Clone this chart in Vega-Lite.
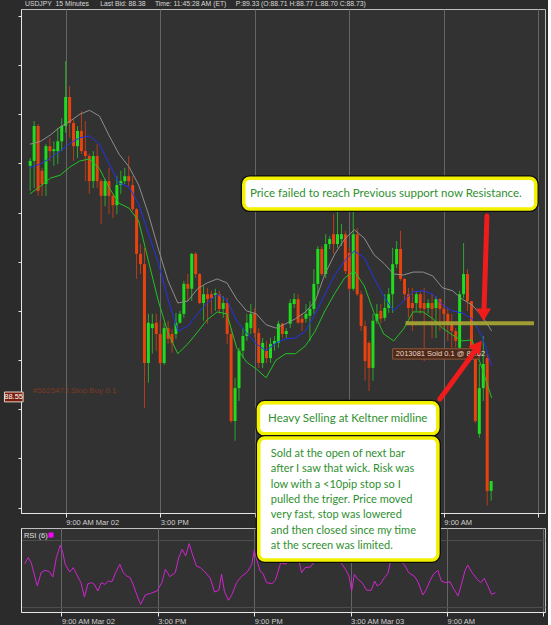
{
"$schema":"https://vega.github.io/schema/vega-lite/v6.json",
"background":"#2b2b2b",
"padding":{"left":3,"top":0,"right":2,"bottom":1},
"bounds":"flush",
"spacing":15,
"title":{"text":"USDJPY\u00a0\u00a015 Minutes\u00a0\u00a0\u00a0\u00a0\u00a0\u00a0Last Bid: 88.38\u00a0\u00a0\u00a0\u00a0\u00a0Time: 11:45:28 AM (ET)\u00a0\u00a0\u00a0\u00a0\u00a0P:89.33 (O:88.71 H:88.77 L:88.70 C:88.73)","anchor":"start","frame":"group","font":"Liberation Sans","fontSize":6.8,"fontWeight":"normal","color":"#d8d8d8","offset":1,"dx":4},
"config":{"view":{"fill":"#323232","stroke":"#bfbfbf","strokeWidth":1},"axis":{"labelFont":"Liberation Sans","labelFontSize":7.5,"labelColor":"#d0d0d0","domainColor":"#e6e6e6","tickColor":"#e6e6e6","title":null}},
"datasets":{
"c":[
{"t":"2013-03-02T06:45:00Z","o":89.020,"h":89.036,"l":88.969,"c":89.030},
{"t":"2013-03-02T07:00:00Z","o":89.030,"h":89.111,"l":88.975,"c":89.101},
{"t":"2013-03-02T07:15:00Z","o":89.101,"h":89.105,"l":88.959,"c":88.969},
{"t":"2013-03-02T07:30:00Z","o":89.010,"h":89.016,"l":88.959,"c":88.983},
{"t":"2013-03-02T07:45:00Z","o":88.983,"h":89.064,"l":88.959,"c":89.060},
{"t":"2013-03-02T08:00:00Z","o":89.060,"h":89.077,"l":89.030,"c":89.050},
{"t":"2013-03-02T08:15:00Z","o":89.050,"h":89.070,"l":89.020,"c":89.054},
{"t":"2013-03-02T08:30:00Z","o":89.050,"h":89.097,"l":89.024,"c":89.070},
{"t":"2013-03-02T08:45:00Z","o":89.070,"h":89.117,"l":89.050,"c":89.101},
{"t":"2013-03-02T09:00:00Z","o":89.101,"h":89.233,"l":89.087,"c":89.160},
{"t":"2013-03-02T09:15:00Z","o":89.160,"h":89.182,"l":89.077,"c":89.107},
{"t":"2013-03-02T09:30:00Z","o":89.107,"h":89.115,"l":89.030,"c":89.060},
{"t":"2013-03-02T09:45:00Z","o":89.060,"h":89.101,"l":89.036,"c":89.091},
{"t":"2013-03-02T10:00:00Z","o":89.091,"h":89.131,"l":89.044,"c":89.050},
{"t":"2013-03-02T10:15:00Z","o":89.050,"h":89.111,"l":88.989,"c":89.040},
{"t":"2013-03-02T10:30:00Z","o":89.040,"h":89.044,"l":88.963,"c":88.989},
{"t":"2013-03-02T10:45:00Z","o":88.989,"h":89.050,"l":88.975,"c":89.040},
{"t":"2013-03-02T11:00:00Z","o":89.040,"h":89.064,"l":88.975,"c":88.989},
{"t":"2013-03-02T11:15:00Z","o":88.989,"h":88.993,"l":88.902,"c":88.959},
{"t":"2013-03-02T11:30:00Z","o":88.959,"h":88.993,"l":88.938,"c":88.989},
{"t":"2013-03-02T11:45:00Z","o":88.989,"h":89.016,"l":88.922,"c":88.959},
{"t":"2013-03-02T12:00:00Z","o":88.959,"h":88.963,"l":88.914,"c":88.940},
{"t":"2013-03-02T12:15:00Z","o":88.940,"h":88.999,"l":88.922,"c":88.981},
{"t":"2013-03-02T12:30:00Z","o":88.981,"h":89.010,"l":88.963,"c":88.989},
{"t":"2013-03-02T12:45:00Z","o":88.989,"h":89.016,"l":88.983,"c":88.999},
{"t":"2013-03-02T13:00:00Z","o":88.999,"h":89.040,"l":88.979,"c":88.989},
{"t":"2013-03-02T13:15:00Z","o":88.981,"h":88.999,"l":88.928,"c":88.932},
{"t":"2013-03-02T13:30:00Z","o":88.932,"h":88.934,"l":88.790,"c":88.841},
{"t":"2013-03-02T13:45:00Z","o":88.841,"h":88.861,"l":88.800,"c":88.820},
{"t":"2013-03-02T14:00:00Z","o":88.820,"h":88.853,"l":88.528,"c":88.619},
{"t":"2013-03-02T14:15:00Z","o":88.619,"h":88.719,"l":88.579,"c":88.701},
{"t":"2013-03-02T14:30:00Z","o":88.690,"h":88.719,"l":88.638,"c":88.699},
{"t":"2013-03-02T14:45:00Z","o":88.701,"h":88.719,"l":88.644,"c":88.678},
{"t":"2013-03-02T15:00:00Z","o":88.678,"h":88.705,"l":88.615,"c":88.619},
{"t":"2013-03-02T15:15:00Z","o":88.619,"h":88.701,"l":88.615,"c":88.690},
{"t":"2013-03-02T15:30:00Z","o":88.690,"h":88.705,"l":88.658,"c":88.668},
{"t":"2013-03-02T15:45:00Z","o":88.678,"h":88.688,"l":88.640,"c":88.660},
{"t":"2013-03-02T16:00:00Z","o":88.678,"h":88.721,"l":88.668,"c":88.701},
{"t":"2013-03-02T16:15:00Z","o":88.701,"h":88.725,"l":88.699,"c":88.719},
{"t":"2013-03-02T16:30:00Z","o":88.719,"h":88.786,"l":88.711,"c":88.780},
{"t":"2013-03-02T16:45:00Z","o":88.780,"h":88.800,"l":88.745,"c":88.770},
{"t":"2013-03-02T17:00:00Z","o":88.770,"h":88.843,"l":88.745,"c":88.841},
{"t":"2013-03-02T17:15:00Z","o":88.841,"h":88.845,"l":88.792,"c":88.800},
{"t":"2013-03-02T17:30:00Z","o":88.800,"h":88.802,"l":88.739,"c":88.741},
{"t":"2013-03-02T17:45:00Z","o":88.741,"h":88.776,"l":88.705,"c":88.759},
{"t":"2013-03-02T18:00:00Z","o":88.759,"h":88.772,"l":88.699,"c":88.749},
{"t":"2013-03-02T18:15:00Z","o":88.759,"h":88.766,"l":88.719,"c":88.751},
{"t":"2013-03-02T18:30:00Z","o":88.757,"h":88.770,"l":88.725,"c":88.761},
{"t":"2013-03-02T18:45:00Z","o":88.759,"h":88.766,"l":88.719,"c":88.729},
{"t":"2013-03-02T19:00:00Z","o":88.729,"h":88.755,"l":88.711,"c":88.741},
{"t":"2013-03-02T19:15:00Z","o":88.741,"h":88.751,"l":88.658,"c":88.678},
{"t":"2013-03-02T19:30:00Z","o":88.678,"h":88.690,"l":88.497,"c":88.501},
{"t":"2013-03-02T19:45:00Z","o":88.501,"h":88.589,"l":88.461,"c":88.568},
{"t":"2013-03-02T20:00:00Z","o":88.568,"h":88.650,"l":88.542,"c":88.644},
{"t":"2013-03-02T20:15:00Z","o":88.644,"h":88.690,"l":88.629,"c":88.674},
{"t":"2013-03-02T20:30:00Z","o":88.674,"h":88.719,"l":88.664,"c":88.701},
{"t":"2013-03-02T20:45:00Z","o":88.690,"h":88.739,"l":88.678,"c":88.719},
{"t":"2013-03-02T21:00:00Z","o":88.721,"h":88.731,"l":88.670,"c":88.680},
{"t":"2013-03-02T21:15:00Z","o":88.680,"h":88.690,"l":88.609,"c":88.619},
{"t":"2013-03-02T21:30:00Z","o":88.619,"h":88.670,"l":88.609,"c":88.660},
{"t":"2013-03-02T21:45:00Z","o":88.644,"h":88.664,"l":88.619,"c":88.629},
{"t":"2013-03-02T22:00:00Z","o":88.629,"h":88.670,"l":88.619,"c":88.658},
{"t":"2013-03-02T22:15:00Z","o":88.658,"h":88.674,"l":88.644,"c":88.664},
{"t":"2013-03-02T22:30:00Z","o":88.660,"h":88.705,"l":88.650,"c":88.699},
{"t":"2013-03-02T22:45:00Z","o":88.699,"h":88.701,"l":88.670,"c":88.678},
{"t":"2013-03-02T23:00:00Z","o":88.678,"h":88.690,"l":88.670,"c":88.684},
{"t":"2013-03-02T23:15:00Z","o":88.699,"h":88.749,"l":88.690,"c":88.741},
{"t":"2013-03-02T23:30:00Z","o":88.739,"h":88.761,"l":88.731,"c":88.749},
{"t":"2013-03-02T23:45:00Z","o":88.749,"h":88.759,"l":88.699,"c":88.701},
{"t":"2013-03-03T00:00:00Z","o":88.709,"h":88.719,"l":88.684,"c":88.701},
{"t":"2013-03-03T00:15:00Z","o":88.709,"h":88.739,"l":88.701,"c":88.719},
{"t":"2013-03-03T00:30:00Z","o":88.715,"h":88.745,"l":88.664,"c":88.729},
{"t":"2013-03-03T00:45:00Z","o":88.729,"h":88.810,"l":88.719,"c":88.780},
{"t":"2013-03-03T01:00:00Z","o":88.780,"h":88.857,"l":88.759,"c":88.851},
{"t":"2013-03-03T01:15:00Z","o":88.851,"h":88.857,"l":88.796,"c":88.800},
{"t":"2013-03-03T01:30:00Z","o":88.800,"h":88.881,"l":88.792,"c":88.861},
{"t":"2013-03-03T01:45:00Z","o":88.861,"h":88.877,"l":88.851,"c":88.871},
{"t":"2013-03-03T02:00:00Z","o":88.881,"h":88.922,"l":88.841,"c":88.861},
{"t":"2013-03-03T02:15:00Z","o":88.861,"h":88.928,"l":88.853,"c":88.881},
{"t":"2013-03-03T02:30:00Z","o":88.871,"h":88.902,"l":88.857,"c":88.881},
{"t":"2013-03-03T02:45:00Z","o":88.881,"h":88.888,"l":88.800,"c":88.806},
{"t":"2013-03-03T03:00:00Z","o":88.843,"h":88.853,"l":88.766,"c":88.770},
{"t":"2013-03-03T03:15:00Z","o":88.770,"h":88.928,"l":88.766,"c":88.881},
{"t":"2013-03-03T03:30:00Z","o":88.881,"h":88.894,"l":88.755,"c":88.759},
{"t":"2013-03-03T03:45:00Z","o":88.759,"h":88.766,"l":88.684,"c":88.694},
{"t":"2013-03-03T04:00:00Z","o":88.694,"h":88.705,"l":88.583,"c":88.623},
{"t":"2013-03-03T04:15:00Z","o":88.660,"h":88.664,"l":88.562,"c":88.609},
{"t":"2013-03-03T04:30:00Z","o":88.609,"h":88.719,"l":88.583,"c":88.705},
{"t":"2013-03-03T04:45:00Z","o":88.705,"h":88.739,"l":88.699,"c":88.719},
{"t":"2013-03-03T05:00:00Z","o":88.725,"h":88.739,"l":88.699,"c":88.709},
{"t":"2013-03-03T05:15:00Z","o":88.711,"h":88.759,"l":88.705,"c":88.731},
{"t":"2013-03-03T05:30:00Z","o":88.731,"h":88.772,"l":88.721,"c":88.759},
{"t":"2013-03-03T05:45:00Z","o":88.759,"h":88.853,"l":88.721,"c":88.820},
{"t":"2013-03-03T06:00:00Z","o":88.820,"h":88.867,"l":88.812,"c":88.851},
{"t":"2013-03-03T06:15:00Z","o":88.851,"h":88.888,"l":88.786,"c":88.790},
{"t":"2013-03-03T06:30:00Z","o":88.790,"h":88.792,"l":88.745,"c":88.759},
{"t":"2013-03-03T06:45:00Z","o":88.759,"h":88.772,"l":88.711,"c":88.731},
{"t":"2013-03-03T07:00:00Z","o":88.741,"h":88.772,"l":88.684,"c":88.731},
{"t":"2013-03-03T07:15:00Z","o":88.741,"h":88.766,"l":88.725,"c":88.759},
{"t":"2013-03-03T07:30:00Z","o":88.759,"h":88.766,"l":88.719,"c":88.731},
{"t":"2013-03-03T07:45:00Z","o":88.741,"h":88.772,"l":88.623,"c":88.729},
{"t":"2013-03-03T08:00:00Z","o":88.731,"h":88.749,"l":88.719,"c":88.741},
{"t":"2013-03-03T08:15:00Z","o":88.741,"h":88.759,"l":88.670,"c":88.729},
{"t":"2013-03-03T08:30:00Z","o":88.731,"h":88.755,"l":88.670,"c":88.749},
{"t":"2013-03-03T08:45:00Z","o":88.749,"h":88.751,"l":88.684,"c":88.729},
{"t":"2013-03-03T09:00:00Z","o":88.729,"h":88.739,"l":88.690,"c":88.719},
{"t":"2013-03-03T09:15:00Z","o":88.719,"h":88.731,"l":88.664,"c":88.701},
{"t":"2013-03-03T09:30:00Z","o":88.701,"h":88.719,"l":88.650,"c":88.684},
{"t":"2013-03-03T09:45:00Z","o":88.684,"h":88.690,"l":88.650,"c":88.664},
{"t":"2013-03-03T10:00:00Z","o":88.650,"h":88.766,"l":88.644,"c":88.759},
{"t":"2013-03-03T10:15:00Z","o":88.759,"h":88.863,"l":88.751,"c":88.800},
{"t":"2013-03-03T10:30:00Z","o":88.800,"h":88.810,"l":88.725,"c":88.745},
{"t":"2013-03-03T10:45:00Z","o":88.745,"h":88.745,"l":88.629,"c":88.638},
{"t":"2013-03-03T11:00:00Z","o":88.644,"h":88.650,"l":88.497,"c":88.501},
{"t":"2013-03-03T11:15:00Z","o":88.475,"h":88.617,"l":88.467,"c":88.568},
{"t":"2013-03-03T11:30:00Z","o":88.568,"h":88.674,"l":88.542,"c":88.617},
{"t":"2013-03-03T11:45:00Z","o":88.629,"h":88.638,"l":88.329,"c":88.359},
{"t":"2013-03-03T12:00:00Z","o":88.359,"h":88.379,"l":88.339,"c":88.379}
],
"k":[
{"t":"2013-03-02T06:44:00Z","u":89.064,"m":89.016,"d":88.963},
{"t":"2013-03-02T07:25:00Z","u":89.070,"m":89.024,"d":88.979},
{"t":"2013-03-02T08:02:00Z","u":89.083,"m":89.036,"d":88.995},
{"t":"2013-03-02T08:39:00Z","u":89.099,"m":89.050,"d":89.001},
{"t":"2013-03-02T09:17:00Z","u":89.111,"m":89.066,"d":89.018},
{"t":"2013-03-02T09:54:00Z","u":89.125,"m":89.077,"d":89.030},
{"t":"2013-03-02T10:31:00Z","u":89.133,"m":89.081,"d":89.034},
{"t":"2013-03-02T11:09:00Z","u":89.121,"m":89.064,"d":89.014},
{"t":"2013-03-02T11:46:00Z","u":89.081,"m":89.024,"d":88.975},
{"t":"2013-03-02T12:23:00Z","u":89.044,"m":88.985,"d":88.944},
{"t":"2013-03-02T13:01:00Z","u":89.018,"m":88.977,"d":88.934},
{"t":"2013-03-02T13:38:00Z","u":88.981,"m":88.942,"d":88.908},
{"t":"2013-03-02T14:15:00Z","u":88.922,"m":88.883,"d":88.827},
{"t":"2013-03-02T14:53:00Z","u":88.851,"m":88.822,"d":88.745},
{"t":"2013-03-02T15:30:00Z","u":88.786,"m":88.749,"d":88.680},
{"t":"2013-03-02T16:07:00Z","u":88.741,"m":88.684,"d":88.638},
{"t":"2013-03-02T16:45:00Z","u":88.745,"m":88.694,"d":88.658},
{"t":"2013-03-02T17:22:00Z","u":88.770,"m":88.719,"d":88.682},
{"t":"2013-03-02T17:59:00Z","u":88.782,"m":88.741,"d":88.707},
{"t":"2013-03-02T18:37:00Z","u":88.790,"m":88.759,"d":88.723},
{"t":"2013-03-02T19:14:00Z","u":88.782,"m":88.747,"d":88.719},
{"t":"2013-03-02T19:51:00Z","u":88.749,"m":88.705,"d":88.650},
{"t":"2013-03-02T20:29:00Z","u":88.725,"m":88.680,"d":88.621},
{"t":"2013-03-02T21:06:00Z","u":88.719,"m":88.658,"d":88.607},
{"t":"2013-03-02T21:43:00Z","u":88.697,"m":88.644,"d":88.589},
{"t":"2013-03-02T22:21:00Z","u":88.690,"m":88.660,"d":88.625},
{"t":"2013-03-02T22:58:00Z","u":88.699,"m":88.668,"d":88.638},
{"t":"2013-03-02T23:35:00Z","u":88.709,"m":88.670,"d":88.638},
{"t":"2013-03-03T00:13:00Z","u":88.723,"m":88.684,"d":88.654},
{"t":"2013-03-03T00:50:00Z","u":88.745,"m":88.719,"d":88.684},
{"t":"2013-03-03T01:27:00Z","u":88.800,"m":88.759,"d":88.725},
{"t":"2013-03-03T02:05:00Z","u":88.841,"m":88.798,"d":88.761},
{"t":"2013-03-03T02:42:00Z","u":88.871,"m":88.827,"d":88.792},
{"t":"2013-03-03T03:19:00Z","u":88.890,"m":88.847,"d":88.806},
{"t":"2013-03-03T03:57:00Z","u":88.873,"m":88.833,"d":88.776},
{"t":"2013-03-03T04:34:00Z","u":88.839,"m":88.792,"d":88.721},
{"t":"2013-03-03T05:11:00Z","u":88.822,"m":88.755,"d":88.678},
{"t":"2013-03-03T05:49:00Z","u":88.800,"m":88.725,"d":88.664},
{"t":"2013-03-03T06:26:00Z","u":88.798,"m":88.745,"d":88.688},
{"t":"2013-03-03T07:03:00Z","u":88.804,"m":88.764,"d":88.723},
{"t":"2013-03-03T07:41:00Z","u":88.804,"m":88.766,"d":88.723},
{"t":"2013-03-03T08:18:00Z","u":88.796,"m":88.759,"d":88.709},
{"t":"2013-03-03T08:55:00Z","u":88.772,"m":88.737,"d":88.690},
{"t":"2013-03-03T09:33:00Z","u":88.766,"m":88.725,"d":88.676},
{"t":"2013-03-03T10:10:00Z","u":88.749,"m":88.721,"d":88.664},
{"t":"2013-03-03T10:47:00Z","u":88.737,"m":88.709,"d":88.666},
{"t":"2013-03-03T11:25:00Z","u":88.715,"m":88.674,"d":88.609},
{"t":"2013-03-03T12:02:00Z","u":88.684,"m":88.613,"d":88.548}
],
"r":[
{"t":"2013-03-02T06:43:00Z","v":64.6},{"t":"2013-03-02T06:56:00Z","v":73.5},{"t":"2013-03-02T07:07:00Z","v":66.1},{"t":"2013-03-02T07:20:00Z","v":46.3},{"t":"2013-03-02T07:30:00Z","v":31.5},{"t":"2013-03-02T07:44:00Z","v":51.2},{"t":"2013-03-02T07:59:00Z","v":54.7},{"t":"2013-03-02T08:15:00Z","v":52.7},{"t":"2013-03-02T08:28:00Z","v":44.8},{"t":"2013-03-02T08:41:00Z","v":73.5},{"t":"2013-03-02T08:56:00Z","v":92.2},{"t":"2013-03-02T09:05:00Z","v":80.9},{"t":"2013-03-02T09:14:00Z","v":63.6},{"t":"2013-03-02T09:31:00Z","v":52.2},{"t":"2013-03-02T09:44:00Z","v":58.7},{"t":"2013-03-02T10:00:00Z","v":46.3},{"t":"2013-03-02T10:13:00Z","v":36.4},{"t":"2013-03-02T10:26:00Z","v":15.2},{"t":"2013-03-02T10:39:00Z","v":34.9},{"t":"2013-03-02T10:53:00Z","v":36.4},{"t":"2013-03-02T11:03:00Z","v":33.9},{"t":"2013-03-02T11:16:00Z","v":24.1},{"t":"2013-03-02T11:29:00Z","v":36.4},{"t":"2013-03-02T11:42:00Z","v":33.9},{"t":"2013-03-02T11:56:00Z","v":38.9},{"t":"2013-03-02T12:09:00Z","v":37.9},{"t":"2013-03-02T12:22:00Z","v":51.2},{"t":"2013-03-02T12:38:00Z","v":63.6},{"t":"2013-03-02T12:51:00Z","v":51.2},{"t":"2013-03-02T13:04:00Z","v":46.3},{"t":"2013-03-02T13:17:00Z","v":43.8},{"t":"2013-03-02T13:30:00Z","v":31.5},{"t":"2013-03-02T13:43:00Z","v":16.7},{"t":"2013-03-02T13:56:00Z","v":4.3},{"t":"2013-03-02T14:13:00Z","v":18.2},{"t":"2013-03-02T14:33:00Z","v":20.6},{"t":"2013-03-02T14:57:00Z","v":24.1},{"t":"2013-03-02T15:15:00Z","v":36.4},{"t":"2013-03-02T15:28:00Z","v":56.2},{"t":"2013-03-02T15:45:00Z","v":45.3},{"t":"2013-03-02T16:05:00Z","v":51.2},{"t":"2013-03-02T16:18:00Z","v":73.5},{"t":"2013-03-02T16:31:00Z","v":85.8},{"t":"2013-03-02T16:44:00Z","v":75.9},{"t":"2013-03-02T16:57:00Z","v":94.2},{"t":"2013-03-02T17:10:00Z","v":77.4},{"t":"2013-03-02T17:24:00Z","v":61.1},{"t":"2013-03-02T17:39:00Z","v":58.7},{"t":"2013-03-02T17:56:00Z","v":52.2},{"t":"2013-03-02T18:16:00Z","v":42.9},{"t":"2013-03-02T18:32:00Z","v":22.6},{"t":"2013-03-02T18:48:00Z","v":25.1},{"t":"2013-03-02T18:58:00Z","v":48.8},{"t":"2013-03-02T19:09:00Z","v":23.1},{"t":"2013-03-02T19:24:00Z","v":10.3},{"t":"2013-03-02T19:37:00Z","v":19.1},{"t":"2013-03-02T19:54:00Z","v":36.4},{"t":"2013-03-02T20:14:00Z","v":46.3},{"t":"2013-03-02T20:34:00Z","v":52.2},{"t":"2013-03-02T20:51:00Z","v":63.6},{"t":"2013-03-02T21:00:00Z","v":84.3},{"t":"2013-03-02T21:09:00Z","v":71.0},{"t":"2013-03-02T21:22:00Z","v":53.7},{"t":"2013-03-02T21:33:00Z","v":49.8},{"t":"2013-03-02T21:46:00Z","v":36.4},{"t":"2013-03-02T22:06:00Z","v":34.9},{"t":"2013-03-02T22:19:00Z","v":39.9},{"t":"2013-03-02T22:39:00Z","v":66.1},{"t":"2013-03-02T22:58:00Z","v":63.6},{"t":"2013-03-02T23:24:00Z","v":82.0},{"t":"2013-03-02T23:47:00Z","v":68.5},{"t":"2013-03-02T23:57:00Z","v":51.2},{"t":"2013-03-03T00:10:00Z","v":58.7},{"t":"2013-03-03T00:30:00Z","v":59.6},{"t":"2013-03-03T00:47:00Z","v":68.5},{"t":"2013-03-03T01:09:00Z","v":78.0},{"t":"2013-03-03T01:36:00Z","v":73.0},{"t":"2013-03-03T02:02:00Z","v":83.0},{"t":"2013-03-03T02:28:00Z","v":63.6},{"t":"2013-03-03T02:41:00Z","v":56.2},{"t":"2013-03-03T02:54:00Z","v":46.3},{"t":"2013-03-03T03:04:00Z","v":24.1},{"t":"2013-03-03T03:14:00Z","v":48.8},{"t":"2013-03-03T03:27:00Z","v":41.4},{"t":"2013-03-03T03:43:00Z","v":36.4},{"t":"2013-03-03T04:00:00Z","v":25.1},{"t":"2013-03-03T04:17:00Z","v":25.1},{"t":"2013-03-03T04:30:00Z","v":38.9},{"t":"2013-03-03T04:39:00Z","v":31.5},{"t":"2013-03-03T04:52:00Z","v":34.9},{"t":"2013-03-03T05:06:00Z","v":43.8},{"t":"2013-03-03T05:19:00Z","v":49.8},{"t":"2013-03-03T05:28:00Z","v":66.1},{"t":"2013-03-03T05:36:00Z","v":80.9},{"t":"2013-03-03T05:45:00Z","v":73.5},{"t":"2013-03-03T06:05:00Z","v":68.5},{"t":"2013-03-03T06:20:00Z","v":63.6},{"t":"2013-03-03T06:37:00Z","v":51.2},{"t":"2013-03-03T06:57:00Z","v":46.3},{"t":"2013-03-03T07:10:00Z","v":38.9},{"t":"2013-03-03T07:30:00Z","v":18.2},{"t":"2013-03-03T07:43:00Z","v":26.6},{"t":"2013-03-03T07:56:00Z","v":38.9},{"t":"2013-03-03T08:09:00Z","v":48.8},{"t":"2013-03-03T08:26:00Z","v":54.7},{"t":"2013-03-03T08:39:00Z","v":38.9},{"t":"2013-03-03T08:55:00Z","v":36.4},{"t":"2013-03-03T09:11:00Z","v":37.9},{"t":"2013-03-03T09:24:00Z","v":28.0},{"t":"2013-03-03T09:41:00Z","v":16.7},{"t":"2013-03-03T09:54:00Z","v":33.9},{"t":"2013-03-03T10:07:00Z","v":53.7},{"t":"2013-03-03T10:17:00Z","v":62.6},{"t":"2013-03-03T10:34:00Z","v":51.2},{"t":"2013-03-03T10:53:00Z","v":41.4},{"t":"2013-03-03T11:06:00Z","v":36.4},{"t":"2013-03-03T11:19:00Z","v":42.9},{"t":"2013-03-03T11:33:00Z","v":31.5},{"t":"2013-03-03T11:46:00Z","v":19.1},{"t":"2013-03-03T12:01:00Z","v":21.6}
]
},
"vconcat":[
{
"width":524,"height":504,
"layer":[
{"mark":{"type":"rule","color":"#8a3010","strokeWidth":1},
 "encoding":{"y":{"datum":88.55,"type":"quantitative","scale":{"domain":[88.314,89.339],"nice":false,"zero":false},
  "axis":{"orient":"left","values":[88.325,88.35,88.375,88.4,88.425,88.45,88.475,88.5,88.525,88.55,88.575,88.6,88.625,88.65,88.675,88.7,88.725,88.75,88.775,88.8,88.825,88.85,88.875,88.9,88.925,88.95,88.975,89.0,89.025,89.05,89.075,89.1,89.125,89.15,89.175,89.2,89.225,89.25,89.275,89.3,89.325],"labels":false,"ticks":true,"tickSize":3,"grid":true,"gridColor":{"condition":{"test":"abs(datum.value*20-round(datum.value*20))<0.01","value":"#4d4d4d"},"value":"rgba(0,0,0,0)"},"title":null}}}},
{"mark":{"type":"rule","color":"#6e3a26","strokeWidth":1,"strokeDash":[2,2]},"encoding":{"y":{"datum":88.619,"type":"quantitative","scale":{"domain":[88.314,89.339]}}}},
{"mark":{"type":"rule","color":"#5b8fae","strokeWidth":1,"strokeDash":[4,3]},"encoding":{"y":{"datum":88.381,"type":"quantitative","scale":{"domain":[88.314,89.339]}}}},
{"data":{"name":"c"},"mark":{"type":"rule","strokeWidth":1},
 "encoding":{
  "x":{"field":"t","type":"temporal","scale":{"type":"utc","domain":[{"year":2013,"month":3,"date":2,"hours":6,"minutes":29,"utc":true},{"year":2013,"month":3,"date":3,"hours":15,"minutes":6,"utc":true}]},
   "axis":{"values":[{"year":2013,"month":3,"date":2,"hours":9,"utc":true},{"year":2013,"month":3,"date":2,"hours":15,"utc":true},{"year":2013,"month":3,"date":2,"hours":21,"utc":true},{"year":2013,"month":3,"date":3,"hours":3,"utc":true},{"year":2013,"month":3,"date":3,"hours":9,"utc":true},{"year":2013,"month":3,"date":3,"hours":15,"utc":true}],"grid":true,"gridColor":"#656565","tickSize":4,"labelAlign":"left","labelPadding":1,"labelFlush":false,"labelOverlap":false,"title":null,
    "labelExpr":"(utchours(datum.value)==15 && utcdate(datum.value)==3) || utchours(datum.value)==21 || utchours(datum.value)==3 ? '' : utcFormat(datum.value, '%-I:%M %p') + ((utchours(datum.value)==9 && utcdate(datum.value)==2) ? utcFormat(datum.value, ' %b %d') : '')"}},
  "y":{"field":"l","type":"quantitative","scale":{"domain":[88.314,89.339]}},
  "y2":{"field":"h"},
  "color":{"condition":{"test":"datum.c>=datum.o","value":"#2aa82a"},"value":"#b83c18"}}},
{"data":{"name":"c"},"mark":{"type":"bar","size":3},
 "encoding":{
  "x":{"field":"t","type":"temporal","scale":{"type":"utc","domain":[{"year":2013,"month":3,"date":2,"hours":6,"minutes":29,"utc":true},{"year":2013,"month":3,"date":3,"hours":15,"minutes":6,"utc":true}]}},
  "y":{"field":"o","type":"quantitative","scale":{"domain":[88.314,89.339]}},
  "y2":{"field":"c"},
  "color":{"condition":{"test":"datum.c>=datum.o","value":"#1edc1e"},"value":"#e8420e"}}},
{"data":{"name":"k"},"mark":{"type":"line","color":"#8e8e8e","strokeWidth":1},
 "encoding":{"x":{"field":"t","type":"temporal","scale":{"type":"utc","domain":[{"year":2013,"month":3,"date":2,"hours":6,"minutes":29,"utc":true},{"year":2013,"month":3,"date":3,"hours":15,"minutes":6,"utc":true}]}},"y":{"field":"u","type":"quantitative","scale":{"domain":[88.314,89.339]}}}},
{"data":{"name":"k"},"mark":{"type":"line","color":"#2233ee","strokeWidth":1},
 "encoding":{"x":{"field":"t","type":"temporal","scale":{"type":"utc","domain":[{"year":2013,"month":3,"date":2,"hours":6,"minutes":29,"utc":true},{"year":2013,"month":3,"date":3,"hours":15,"minutes":6,"utc":true}]}},"y":{"field":"m","type":"quantitative","scale":{"domain":[88.314,89.339]}}}},
{"data":{"name":"k"},"mark":{"type":"line","color":"#22c322","strokeWidth":1},
 "encoding":{"x":{"field":"t","type":"temporal","scale":{"type":"utc","domain":[{"year":2013,"month":3,"date":2,"hours":6,"minutes":29,"utc":true},{"year":2013,"month":3,"date":3,"hours":15,"minutes":6,"utc":true}]}},"y":{"field":"d","type":"quantitative","scale":{"domain":[88.314,89.339]}}}},
{"data":{"values":[{"a":"2013-03-03T06:34:00Z","b":"2013-03-03T14:43:00Z","p":88.70}]},"mark":{"type":"rule","color":"#a9a933","strokeWidth":4,"opacity":0.9},
 "encoding":{"x":{"field":"a","type":"temporal","scale":{"type":"utc","domain":[{"year":2013,"month":3,"date":2,"hours":6,"minutes":29,"utc":true},{"year":2013,"month":3,"date":3,"hours":15,"minutes":6,"utc":true}]}},"x2":{"field":"b"},"y":{"field":"p","type":"quantitative","scale":{"domain":[88.314,89.339]}}}},
{"data":{"values":[{"a":"2013-03-03T05:45:00Z","b":"2013-03-03T11:14:00Z","p1":88.627,"p2":88.648}]},"mark":{"type":"rect","fill":"#4e2818","stroke":"#8e5a3a","strokeWidth":1},
 "encoding":{"x":{"field":"a","type":"temporal","scale":{"type":"utc","domain":[{"year":2013,"month":3,"date":2,"hours":6,"minutes":29,"utc":true},{"year":2013,"month":3,"date":3,"hours":15,"minutes":6,"utc":true}]}},"x2":{"field":"b"},"y":{"field":"p1","type":"quantitative","scale":{"domain":[88.314,89.339]}},"y2":{"field":"p2"}}},
{"data":{"values":[{"a":"2013-03-03T05:57:00Z","p":88.638,"s":"2013081 Sold 0.1 @ 88.62"}]},"mark":{"type":"text","align":"left","baseline":"middle","font":"Liberation Sans","fontSize":7.5,"color":"#e8d8c8"},
 "encoding":{"x":{"field":"a","type":"temporal","scale":{"type":"utc","domain":[{"year":2013,"month":3,"date":2,"hours":6,"minutes":29,"utc":true},{"year":2013,"month":3,"date":3,"hours":15,"minutes":6,"utc":true}]}},"y":{"field":"p","type":"quantitative","scale":{"domain":[88.314,89.339]}},"text":{"field":"s"}}},
{"data":{"values":[{"a":"2013-03-02T06:55:00Z","p":88.563,"s":"#5625473 Stop Buy 0.1"}]},"mark":{"type":"text","align":"left","baseline":"middle","font":"Liberation Sans","fontSize":8,"color":"#7c3a22"},
 "encoding":{"x":{"field":"a","type":"temporal","scale":{"type":"utc","domain":[{"year":2013,"month":3,"date":2,"hours":6,"minutes":29,"utc":true},{"year":2013,"month":3,"date":3,"hours":15,"minutes":6,"utc":true}]}},"y":{"field":"p","type":"quantitative","scale":{"domain":[88.314,89.339]}},"text":{"field":"s"}}},
{"data":{"values":[{"a":"2013-03-02T05:07:00Z","b":"2013-03-02T06:18:00Z","p1":88.540,"p2":88.560}]},"mark":{"type":"rect","fill":"#7a1e0c","stroke":"#e8d0c8","strokeWidth":1},
 "encoding":{"x":{"field":"a","type":"temporal","scale":{"type":"utc","domain":[{"year":2013,"month":3,"date":2,"hours":6,"minutes":29,"utc":true},{"year":2013,"month":3,"date":3,"hours":15,"minutes":6,"utc":true}]}},"x2":{"field":"b"},"y":{"field":"p1","type":"quantitative","scale":{"domain":[88.314,89.339]}},"y2":{"field":"p2"}}},
{"data":{"values":[{"a":"2013-03-02T05:42:00Z","p":88.55,"s":"88.55"}]},"mark":{"type":"text","align":"center","baseline":"middle","font":"Liberation Sans","fontSize":7.5,"color":"#ffffff"},
 "encoding":{"x":{"field":"a","type":"temporal","scale":{"type":"utc","domain":[{"year":2013,"month":3,"date":2,"hours":6,"minutes":29,"utc":true},{"year":2013,"month":3,"date":3,"hours":15,"minutes":6,"utc":true}]}},"y":{"field":"p","type":"quantitative","scale":{"domain":[88.314,89.339]}},"text":{"field":"s"}}},
{"data":{"values":[{"a":"2013-03-02T20:18:00Z","b":"2013-03-03T14:50:00Z","p1":88.932,"p2":88.995},{"a":"2013-03-02T21:14:00Z","b":"2013-03-03T08:37:00Z","p1":88.475,"p2":88.538}]},"mark":{"type":"rect","fill":"#ffffff","stroke":"#0c0c0c","strokeWidth":6,"cornerRadius":6},
 "encoding":{"x":{"field":"a","type":"temporal","scale":{"type":"utc","domain":[{"year":2013,"month":3,"date":2,"hours":6,"minutes":29,"utc":true},{"year":2013,"month":3,"date":3,"hours":15,"minutes":6,"utc":true}]}},"x2":{"field":"b"},"y":{"field":"p1","type":"quantitative","scale":{"domain":[88.314,89.339]}},"y2":{"field":"p2"}}},
{"data":{"values":[{"a":"2013-03-02T20:18:00Z","b":"2013-03-03T14:50:00Z","p1":88.932,"p2":88.995},{"a":"2013-03-02T21:14:00Z","b":"2013-03-03T08:37:00Z","p1":88.475,"p2":88.538}]},"mark":{"type":"rect","fill":"#ffffff","stroke":"#f2f200","strokeWidth":3.5,"cornerRadius":6},
 "encoding":{"x":{"field":"a","type":"temporal","scale":{"type":"utc","domain":[{"year":2013,"month":3,"date":2,"hours":6,"minutes":29,"utc":true},{"year":2013,"month":3,"date":3,"hours":15,"minutes":6,"utc":true}]}},"x2":{"field":"b"},"y":{"field":"p1","type":"quantitative","scale":{"domain":[88.314,89.339]}},"y2":{"field":"p2"}}},
{"data":{"values":[{"a":"2013-03-03T05:19:00Z","p":88.963,"s":"Price failed to reach Previous support now Resistance."},{"a":"2013-03-03T02:54:00Z","p":88.505,"s":"Heavy Selling at Keltner midline"}]},"mark":{"type":"text","align":"center","baseline":"middle","font":"Lato","fontSize":11.5,"color":"#2f8f2f"},
 "encoding":{"x":{"field":"a","type":"temporal","scale":{"type":"utc","domain":[{"year":2013,"month":3,"date":2,"hours":6,"minutes":29,"utc":true},{"year":2013,"month":3,"date":3,"hours":15,"minutes":6,"utc":true}]}},"y":{"field":"p","type":"quantitative","scale":{"domain":[88.314,89.339]}},"text":{"field":"s"}}},
{"data":{"values":[{"a":"2013-03-03T11:44:00Z","b":"2013-03-03T11:33:00Z","p1":88.918,"p2":88.729},{"a":"2013-03-03T08:45:00Z","b":"2013-03-03T10:59:00Z","p1":88.546,"p2":88.644}]},"mark":{"type":"rule","color":"#f01c1c","strokeWidth":5,"strokeCap":"round"},
 "encoding":{"x":{"field":"a","type":"temporal","scale":{"type":"utc","domain":[{"year":2013,"month":3,"date":2,"hours":6,"minutes":29,"utc":true},{"year":2013,"month":3,"date":3,"hours":15,"minutes":6,"utc":true}]}},"x2":{"field":"b"},"y":{"field":"p1","type":"quantitative","scale":{"domain":[88.314,89.339]}},"y2":{"field":"p2"}}},
{"data":{"values":[{"a":"2013-03-03T11:31:00Z","p":88.717}]},"mark":{"type":"point","shape":"triangle-down","size":220,"filled":true,"opacity":1,"color":"#f01c1c"},
 "encoding":{"x":{"field":"a","type":"temporal","scale":{"type":"utc","domain":[{"year":2013,"month":3,"date":2,"hours":6,"minutes":29,"utc":true},{"year":2013,"month":3,"date":3,"hours":15,"minutes":6,"utc":true}]}},"y":{"field":"p","type":"quantitative","scale":{"domain":[88.314,89.339]}}}},
{"data":{"values":[{"a":"2013-03-03T11:10:00Z","p":88.654}]},"mark":{"type":"point","shape":"triangle-up","size":220,"angle":37,"filled":true,"opacity":1,"color":"#f01c1c"},
 "encoding":{"x":{"field":"a","type":"temporal","scale":{"type":"utc","domain":[{"year":2013,"month":3,"date":2,"hours":6,"minutes":29,"utc":true},{"year":2013,"month":3,"date":3,"hours":15,"minutes":6,"utc":true}]}},"y":{"field":"p","type":"quantitative","scale":{"domain":[88.314,89.339]}}}}
]
},
{
"width":524,"height":84,
"layer":[
{"mark":{"type":"rule","color":"#e6e6e6","strokeDash":[5,3],"strokeWidth":1},
 "encoding":{"y":{"datum":70,"type":"quantitative","scale":{"domain":[-7.04,117.4],"nice":false,"zero":false},"axis":{"values":[0,20,80,100],"labels":false,"ticks":false,"grid":true,"gridColor":"#4d4d4d","title":null}}}},
{"mark":{"type":"rule","color":"#e6e6e6","strokeDash":[5,3],"strokeWidth":1},"encoding":{"y":{"datum":50,"type":"quantitative","scale":{"domain":[-7.04,117.4]}}}},
{"mark":{"type":"rule","color":"#a8a8a8","strokeDash":[5,3],"strokeWidth":1.5},"encoding":{"y":{"datum":30,"type":"quantitative","scale":{"domain":[-7.04,117.4]}}}},
{"data":{"name":"r"},"mark":{"type":"line","color":"#d024d0","strokeWidth":1},
 "encoding":{
  "x":{"field":"t","type":"temporal","scale":{"type":"utc","domain":[{"year":2013,"month":3,"date":2,"hours":6,"minutes":29,"utc":true},{"year":2013,"month":3,"date":3,"hours":15,"minutes":6,"utc":true}]},
   "axis":{"values":[{"year":2013,"month":3,"date":2,"hours":9,"utc":true},{"year":2013,"month":3,"date":2,"hours":15,"utc":true},{"year":2013,"month":3,"date":2,"hours":21,"utc":true},{"year":2013,"month":3,"date":3,"hours":3,"utc":true},{"year":2013,"month":3,"date":3,"hours":9,"utc":true},{"year":2013,"month":3,"date":3,"hours":15,"utc":true}],"grid":true,"gridColor":"#656565","tickSize":4,"labelAlign":"left","labelPadding":1,"labelFlush":false,"labelOverlap":false,"title":null,
    "labelExpr":"utchours(datum.value)==15 && utcdate(datum.value)==3 ? '' : utcFormat(datum.value, '%-I:%M %p') + (((utchours(datum.value)==9 && utcdate(datum.value)==2) || (utchours(datum.value)==3 && utcdate(datum.value)==3)) ? utcFormat(datum.value, ' %b %d') : '')"}},
  "y":{"field":"v","type":"quantitative","scale":{"domain":[-7.04,117.4]}}}},
{"data":{"values":[{"a":"2013-03-02T06:40:00Z","v":105.6,"s":"RSI (6)"}]},"mark":{"type":"text","align":"left","baseline":"middle","font":"Liberation Sans","fontSize":7.5,"color":"#e0e0e0"},
 "encoding":{"x":{"field":"a","type":"temporal","scale":{"type":"utc","domain":[{"year":2013,"month":3,"date":2,"hours":6,"minutes":29,"utc":true},{"year":2013,"month":3,"date":3,"hours":15,"minutes":6,"utc":true}]}},"y":{"field":"v","type":"quantitative","scale":{"domain":[-7.04,117.4]}},"text":{"field":"s"}}},
{"data":{"values":[{"a":"2013-03-02T08:21:00Z","v":107.0}]},"mark":{"type":"point","shape":"square","size":25,"filled":true,"opacity":1,"color":"#ff00ff"},
 "encoding":{"x":{"field":"a","type":"temporal","scale":{"type":"utc","domain":[{"year":2013,"month":3,"date":2,"hours":6,"minutes":29,"utc":true},{"year":2013,"month":3,"date":3,"hours":15,"minutes":6,"utc":true}]}},"y":{"field":"v","type":"quantitative","scale":{"domain":[-7.04,117.4]}}}},
{"data":{"values":[{"a":"2013-03-02T21:17:00Z","b":"2013-03-03T08:26:00Z","v1":70,"v2":250.7}]},"mark":{"type":"rect","fill":"#ffffff","stroke":"#0c0c0c","strokeWidth":6,"cornerRadius":6},
 "encoding":{"x":{"field":"a","type":"temporal","scale":{"type":"utc","domain":[{"year":2013,"month":3,"date":2,"hours":6,"minutes":29,"utc":true},{"year":2013,"month":3,"date":3,"hours":15,"minutes":6,"utc":true}]}},"x2":{"field":"b"},"y":{"field":"v1","type":"quantitative","scale":{"domain":[-7.04,117.4]}},"y2":{"field":"v2"}}},
{"data":{"values":[{"a":"2013-03-02T21:17:00Z","b":"2013-03-03T08:26:00Z","v1":70,"v2":250.7}]},"mark":{"type":"rect","fill":"#ffffff","stroke":"#f2f200","strokeWidth":3.5,"cornerRadius":6},
 "encoding":{"x":{"field":"a","type":"temporal","scale":{"type":"utc","domain":[{"year":2013,"month":3,"date":2,"hours":6,"minutes":29,"utc":true},{"year":2013,"month":3,"date":3,"hours":15,"minutes":6,"utc":true}]}},"x2":{"field":"b"},"y":{"field":"v1","type":"quantitative","scale":{"domain":[-7.04,117.4]}},"y2":{"field":"v2"}}},
{"data":{"values":[{"a":"2013-03-02T22:02:00Z","v":235.9,"s":"Sold at the open of next bar\nafter I saw that wick. Risk was\nlow with a <10pip stop so I\npulled the triger. Price moved\nvery fast, stop was lowered\nand then closed since my time\nat the screen was limited."}]},"mark":{"type":"text","align":"left","baseline":"top","lineBreak":"\n","lineHeight":15.3,"font":"Lato","fontSize":11,"color":"#2f8f2f"},
 "encoding":{"x":{"field":"a","type":"temporal","scale":{"type":"utc","domain":[{"year":2013,"month":3,"date":2,"hours":6,"minutes":29,"utc":true},{"year":2013,"month":3,"date":3,"hours":15,"minutes":6,"utc":true}]}},"y":{"field":"v","type":"quantitative","scale":{"domain":[-7.04,117.4]}},"text":{"field":"s"}}}
]
}
]
}
